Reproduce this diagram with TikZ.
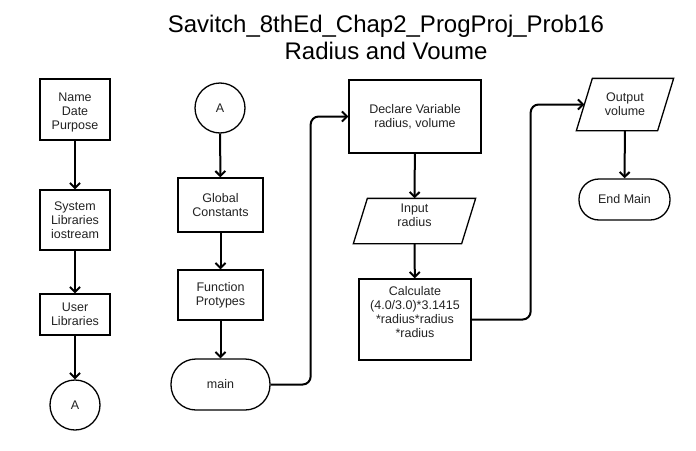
\documentclass[tikz,border=0pt]{standalone}
\usepackage{fontspec}
\setmainfont{Liberation Sans}
\usetikzlibrary{arrows.meta}
\definecolor{txt}{HTML}{222222}
\tikzset{
  x=1pt,y=-1pt,
  nodetext/.style={text=txt,font=\fontsize{12.5}{14}\selectfont,align=center,inner sep=0pt},
  base/.style={draw=black,line width=1.3pt,nodetext},
  procbox/.style={base,rectangle},
  termbox/.style={base,rectangle,rounded corners=20pt},
  conbox/.style={base,circle,minimum size=50pt},
  iobox/.style={base,draw=none,rectangle},
  ioedge/.style={line width=1.3pt,line join=miter},
  conn/.style={line width=2pt,-{Straight Barb[length=5pt,width=10pt,line width=2pt]}},
}
\begin{document}
\begin{tikzpicture}
\useasboundingbox (0,0) rectangle (696,450);
\node[text=black,font=\fontsize{24}{27}\selectfont,align=center] (title) at (386,37) {Savitch\_8thEd\_Chap2\_ProgProj\_Prob16\\Radius and Voume};
% left column
\node[procbox,minimum width=70pt,minimum height=61pt,label={[nodetext,yshift=-3pt]center:Name\\Date\\Purpose}] (ndp) at (75,109.5) {};
\node[procbox,minimum width=70pt,minimum height=60pt] (sys) at (75,220) {System\\Libraries\\iostream};
\node[procbox,minimum width=70pt,minimum height=41pt] (usr) at (75,314.5) {User\\Libraries};
\node[conbox] (a1) at (75,405) {A};
% second column
\node[conbox] (a2) at (220,108) {A};
\node[procbox,minimum width=85pt,minimum height=54pt] (glob) at (220.5,205) {Global\\Constants};
\node[procbox,minimum width=85pt,minimum height=50pt] (func) at (220.5,295) {Function\\Protypes};
\node[termbox,minimum width=99pt,minimum height=51pt,rounded corners=25pt] (main) at (220.5,384.5) {main};
% third column
\node[procbox,minimum width=132pt,minimum height=73pt] (decl) at (415,116.5) {Declare Variable\\radius, volume};
\node[iobox,minimum width=107pt,minimum height=44pt,label={[nodetext,yshift=6pt]center:Input\\radius}] (inp) at (414.5,221) {};
\draw[ioedge] ([xshift=7pt]inp.north west) -- ([xshift=7pt]inp.north east) -- ([xshift=-7pt]inp.south east) -- ([xshift=-7pt]inp.south west) -- cycle;
\node[procbox,minimum width=112pt,minimum height=81pt,label={[nodetext,yshift=7pt]center:Calculate\\(4.0/3.0)*3.1415\\*radius*radius\\*radius}] (calc) at (415,319.5) {};
% fourth column
\node[iobox,minimum width=80pt,minimum height=51pt] (outp) at (625,104.5) {Output\\volume};
\draw[ioedge] ([xshift=8pt]outp.north west) -- ([xshift=8pt]outp.north east) -- ([xshift=-8pt]outp.south east) -- ([xshift=-8pt]outp.south west) -- cycle;
\node[termbox,minimum width=91pt,minimum height=41pt] (endm) at (624.5,199.5) {End Main};
% connectors
\draw[conn] (ndp) -- (sys);
\draw[conn] (sys) -- (usr);
\draw[conn] (usr) -- (a1);
\draw[conn] (a2) -- (glob);
\draw[conn] (glob) -- (func);
\draw[conn] (func) -- (main);
\draw[conn,rounded corners=8pt] (main.east) -- ++(40,0) |- (decl.west);
\draw[conn] (decl) -- (inp);
\draw[conn] (inp) -- (calc);
\draw[conn,rounded corners=8pt] (calc.east) -- ++(59,0) |- (outp.west);
\draw[conn] (outp) -- (endm);
\end{tikzpicture}
\end{document}
